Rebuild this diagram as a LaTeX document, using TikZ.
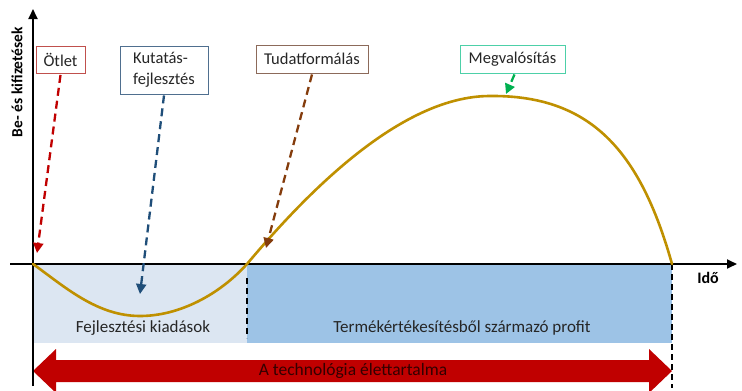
\documentclass[tikz,border=0pt]{standalone}
\usepackage{fontspec}
\setmainfont{Carlito}
\usetikzlibrary{arrows.meta}
\definecolor{curvec}{HTML}{BF9000}
\definecolor{lightbl}{HTML}{DCE6F2}
\definecolor{darkbl}{HTML}{9DC3E6}
\definecolor{bigred}{HTML}{C00000}
\definecolor{redbd}{HTML}{C0504D}
\definecolor{bluebd}{HTML}{4F6F8F}
\definecolor{brownbd}{HTML}{8C6A5A}
\definecolor{greenbd}{HTML}{4DD0A8}
\definecolor{bluearr}{HTML}{1F4E79}
\definecolor{brownarr}{HTML}{843C0C}
\definecolor{greenarr}{HTML}{00B050}
\definecolor{txt}{HTML}{262626}
\tikzset{
  lbl/.style={draw, line width=0.9pt, fill=white, text=txt, font=\fontsize{16.5}{19}\selectfont, inner sep=0pt},
  dasharr/.style={line width=2.3pt, dash pattern=on 8pt off 5pt, -{Triangle[length=10pt,width=10pt]}},
  axis/.style={line width=1.8pt, -{Triangle[length=10pt,width=9pt]}},
  vdash/.style={line width=1.8pt, dash pattern=on 6pt off 4pt},
  region/.style={text=txt, font=\fontsize{17}{20}\selectfont},
}
\begin{document}
\begin{tikzpicture}[x=1pt,y=-1pt]
\useasboundingbox (0,0) rectangle (742,391);
% regions
\fill[lightbl] (33,264) rectangle (247,343);
\fill[darkbl] (247,264) rectangle (672,343);
\node[region] (fk) at (143,328) {Fejlesztési kiadások};
\node[region] (tp) at (462,328) {Termékértékesítésből származó profit};
% dashed verticals
\draw[vdash] (247,278) -- (247,338);
\draw[vdash] (672,264) -- (672,388);
% big double arrow
\fill[bigred] (33,371) -- (56,349) -- (56,360) -- (649,360) -- (649,349) -- (672,371) -- (649,393) -- (649,382) -- (56,382) -- (56,393) -- cycle;
\node[text={rgb,1:red,0.2;green,0;blue,0}, font=\fontsize{17.5}{20}\selectfont] (life) at (353,371) {A technológia élettartalma};
% axes
\coordinate (yb) at (33,386);
\coordinate (yt) at (33,9);
\coordinate (xl) at (10,264);
\coordinate (xr) at (737,264);
\draw[axis] (yb) -- (yt);
\draw[axis] (xl) -- (xr);
\node[font=\bfseries\fontsize{15.5}{18}\selectfont, rotate=90] (ylab) at (17,82) {Be- és kifizetések};
\node[font=\bfseries\fontsize{16}{18}\selectfont] (xlab) at (708,278) {Idő};
% curve
\draw[curvec, line width=2.6pt, line cap=round]
  (33,264) .. controls (65,287) and (97,316) .. (140,316)
  .. controls (180,316) and (220,294) .. (247,264)
  .. controls (305,195) and (400,96) .. (490,96)
  .. controls (590,95) and (640,150) .. (672,264);
% labels
\node[lbl, draw=redbd, minimum width=49pt, minimum height=27pt] (otlet) at (60.5,60) {Ötlet};
\node[lbl, draw=bluebd, minimum width=88pt, minimum height=48pt, align=left, font=\fontsize{16.5}{21}\selectfont] (kf) at (164,70) {Kutatás-\\fejlesztés};
\node[lbl, draw=brownbd, minimum width=112pt, minimum height=28pt] (tf) at (312,59) {Tudatformálás};
\node[lbl, draw=greenbd, minimum width=105pt, minimum height=28pt] (mv) at (512.5,59) {Megvalósítás};
% pointers
\coordinate (p1) at (37,253);
\coordinate (p2) at (140,294);
\coordinate (p3) at (266,248);
\coordinate (p4) at (506,94);
\draw[dasharr, bigred] (otlet.south) ++(0,1) -- (p1);
\draw[dasharr, bluearr] (kf.south) ++(0,1) -- (p2);
\draw[dasharr, brownarr] (tf.south) ++(0,1) -- (p3);
\draw[dasharr, greenarr] (mv.south) ++(2,1) -- (p4);
\end{tikzpicture}
\end{document}
